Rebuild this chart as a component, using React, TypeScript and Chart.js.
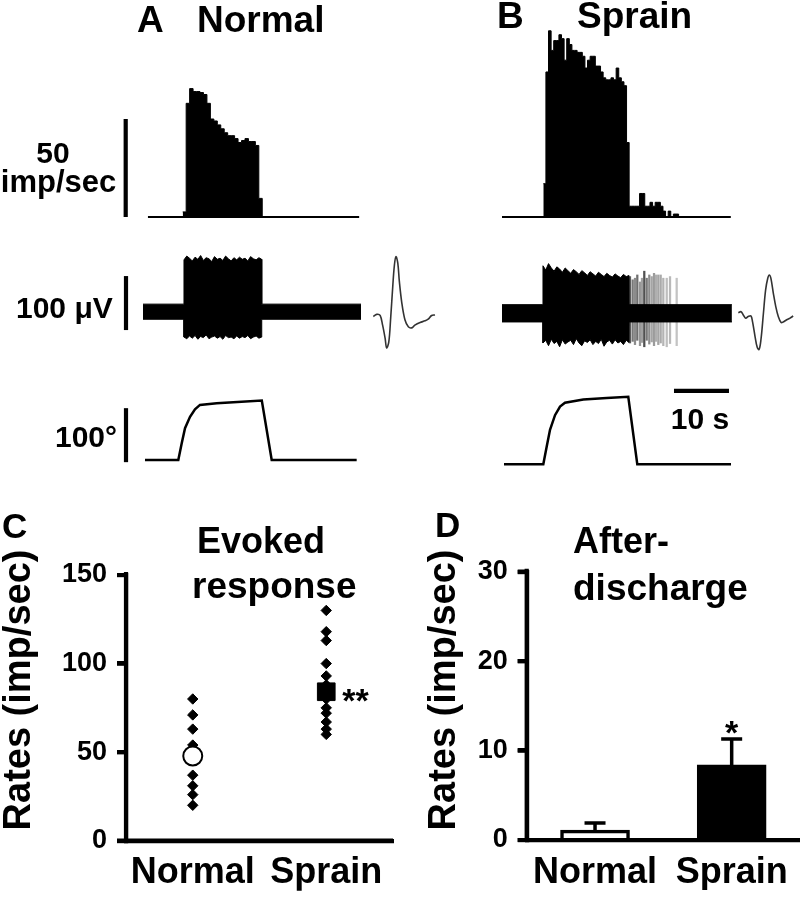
import React, { useEffect, useRef } from "react";
import { Chart, registerables } from "chart.js";
Chart.register(...registerables);

// ======================= DATA =======================
// A / B : peri-stimulus histograms (imp/sec per bin), time in s
const histA_start = 7.22;
const histA_bin = 0.629;
const histA_rates = [2.6, 58, 65.5, 64, 64, 63.5, 62.5, 58, 50, 49, 47, 45, 43, 41.5, 41.5, 40, 38, 39, 40, 38.5, 38.5, 36.5, 9.5];
const histA_range = [0.9, 39.3];

const histB_start = 7.51;
const histB_bin = 0.473;
const histB_rates = [17, 74, 95, 85, 90, 90, 93, 91, 80, 91, 88, 85, 85, 84, 84, 82, 76, 80, 82, 82, 77, 77, 74, 71, 70, 70, 71, 70, 76, 71, 69, 67, 38, 5.5, 5.5, 5.5, 5.5, 12, 12, 5.5, 5.5, 7.5, 5.5, 7.5, 7.5, 5.5, 3, 0, 3, 0, 1.5, 1.5];
const histB_range = [0, 41.6];

// raw recordings (µV): background noise half-width and burst envelope
const rawA_len = 39.64;
const rawA_noise = 14;
const rawA_burst = [7.45, 21.58];
const rawA_hi = [96, 103, 99, 94, 101, 97, 104, 95, 100, 98, 93, 102, 97, 99, 95, 103, 98, 94, 100, 96, 101, 97, 99, 94, 102, 98, 96, 100, 97];
const rawA_lo = [-47, -50, -45, -49, -44, -51, -46, -48, -43, -50, -47, -45, -49, -46, -51, -44, -48, -47, -50, -45, -49, -46, -48, -44, -50, -47, -45, -49, -47];

const rawB_len = 41.8;
const rawB_noise = 16;
const rawB_burst = [7.45, 23.09];
const rawB_hi = [88, 80, 92, 84, 78, 86, 82, 76, 84, 79, 74, 81, 77, 72, 79, 75, 70, 77, 73, 69, 76, 72, 68, 74, 70, 67, 73, 69, 66, 72, 68, 70];
const rawB_lo = [-55, -50, -60, -48, -56, -52, -62, -49, -57, -53, -50, -58, -47, -55, -60, -51, -54, -49, -58, -52, -56, -48, -61, -53, -50, -57, -49, -55, -52, -58, -50, -54];

// after-discharge spikes in B (s, µV)
const spikesB_t = [23.27, 23.76, 24.18, 24.6, 25.09, 25.45, 25.87, 26.31, 26.78, 27.22, 27.64, 28.0, 28.42, 28.85, 29.33, 29.95, 30.55, 31.76];
const spikesB_hi = [68, 62, 65, 71, 58, 65, 78, 65, 71, 68, 74, 71, 71, 71, 65, 65, 68, 65];
const spikesB_lo = [-55, -52, -58, -50, -60, -54, -62, -50, -57, -53, -60, -52, -58, -55, -60, -62, -56, -60];
const spikesB_gray = [90, 120, 140, 110, 150, 160, 80, 120, 140, 165, 155, 175, 165, 170, 180, 190, 185, 195];

// spike waveforms (ms, µV)
const wfA_t = [0.01, 0.12, 0.23, 0.31, 0.39, 0.44, 0.51, 0.57, 0.64, 0.69, 0.74, 0.8, 0.85, 0.93, 1.03, 1.14, 1.25, 1.35, 1.52, 1.68, 1.78, 1.89, 2.0];
const wfA_v = [-1, 3, 1, -17, -41, -59, -48, -4, 57, 94, 110, 98, 64, 24, -7, -20, -22, -17, -12, -9, -6, 1, 2];
const wfB_t = [0.01, 0.1, 0.17, 0.25, 0.33, 0.42, 0.47, 0.55, 0.62, 0.68, 0.74, 0.82, 0.89, 0.96, 1.01, 1.06, 1.14, 1.22, 1.3, 1.39, 1.46, 1.57, 1.68, 1.78];
const wfB_v = [6, 8, 2, -4, -1, 0, -11, -38, -58, -62, -44, 5, 48, 70, 76, 70, 42, 17, -1, -12, -11, -7, -4, 0];

// joint angle (s, deg)
const angA_t = [0.36, 6.42, 7.04, 7.64, 8.55, 9.45, 10.36, 13.4, 16.42, 21.6, 23.4, 38.85];
const angA_v = [0, 0, 31, 59, 80, 94, 102, 105, 107, 110, 0, 0];
const angB_t = [0.36, 7.51, 8.13, 8.73, 9.64, 10.55, 11.45, 14.78, 19.04, 22.96, 24.6, 41.64];
const angB_v = [0, 0, 33, 64, 91, 107, 114, 120, 123, 125, 0, 0];

// scale bars
const barRate = 50; // imp/sec
const barVolt = 100; // µV
const barAngle = 100; // deg
const barTime = 10; // s

// C : evoked response
const categories = ["Normal", "Sprain"];
const evokedNormal = [80, 71, 63, 54, 37, 31, 26, 20];
const evokedSprain = [130, 118, 113, 100, 93, 88, 80, 75, 72, 67, 63, 60];
const evokedMean = [47.8, 84.1];
const evokedSig = ["", "**"];
const evokedTicks = [0, 150, 50];

// D : after-discharge
const afterMean = [1.1, 8.4];
const afterSem = [0.8, 2.9];
const afterSig = ["", "*"];
const afterTicks = [0, 30, 10];

// ======================= LAYOUT =======================
const W = 800;
const H = 897;
const FONT = "'Liberation Sans', Arial, Helvetica, sans-serif";
Chart.defaults.font.family = FONT;
Chart.defaults.color = "#000";
const AXW = 4.2; // axis / scale-bar stroke

type TextItem = { text: string; x: number; y: number; size: number; align?: CanvasTextAlign; rotate?: boolean };

const textPlugin = (items: TextItem[]) => ({
  id: "texts",
  afterDraw(chart: any) {
    const ctx = chart.ctx as CanvasRenderingContext2D;
    ctx.save();
    ctx.fillStyle = "#000";
    ctx.textBaseline = "alphabetic";
    for (const it of items) {
      ctx.font = `bold ${it.size}px ${FONT}`;
      ctx.textAlign = it.align || "left";
      if (it.rotate) {
        ctx.save();
        ctx.translate(it.x, it.y);
        ctx.rotate(-Math.PI / 2);
        ctx.fillText(it.text, 0, 0);
        ctx.restore();
      } else {
        ctx.fillText(it.text, it.x, it.y);
      }
    }
    ctx.restore();
  },
});

// thick Prism-style axes drawn from the chart's own scales
const thickAxes = (xRight?: number) => ({
  id: "thickAxes",
  afterDraw(chart: any) {
    const { ctx, chartArea: a, scales } = chart;
    const y = scales.y;
    ctx.save();
    ctx.strokeStyle = "#000";
    ctx.lineWidth = AXW;
    ctx.lineCap = "butt";
    ctx.beginPath();
    ctx.moveTo(a.left, y.getPixelForValue(y.max) - 3);
    ctx.lineTo(a.left, a.bottom + AXW / 2);
    for (const t of y.ticks) {
      const py = y.getPixelForValue(t.value);
      ctx.moveTo(a.left - 9, py);
      ctx.lineTo(a.left, py);
    }
    ctx.moveTo(a.left - 9, a.bottom);
    ctx.lineTo(xRight ?? a.right, a.bottom);
    ctx.stroke();
    ctx.restore();
  },
});

type Area = { l: number; t: number; r: number; b: number };

const lineDs = (pts: any[], width: number, extra: any = {}) => ({
  type: "line",
  data: pts,
  borderColor: "#000",
  borderWidth: width,
  pointRadius: 0,
  fill: false,
  clip: false,
  tension: 0,
  borderCapStyle: "butt",
  ...extra,
});

const toPts = (xs: number[], ys: number[]) => xs.map((x, i) => ({ x, y: ys[i] }));

function overlay(canvas: HTMLCanvasElement, area: Area, xr: [number, number], yr: [number, number], datasets: any[], texts: TextItem[] = []) {
  return new Chart(canvas, {
    type: "line",
    data: { datasets },
    options: {
      responsive: false,
      maintainAspectRatio: false,
      animation: false,
      events: [],
      layout: { padding: { left: area.l, top: area.t, right: W - area.r, bottom: H - area.b } },
      scales: {
        x: { type: "linear", display: false, offset: false, min: xr[0], max: xr[1] },
        y: { type: "linear", display: false, min: yr[0], max: yr[1] },
      },
      plugins: { legend: { display: false }, tooltip: { enabled: false } },
    } as any,
    plugins: [textPlugin(texts) as any],
  } as any);
}

function histPoints(start: number, bin: number, rates: number[]) {
  const pts = rates.map((r, i) => ({ x: start + i * bin, y: r }));
  pts.push({ x: start + rates.length * bin, y: 0 });
  return pts;
}

// envelope of a raw trace: noise band with a burst section
function envelope(len: number, noise: number, range: number[], vals: number[]) {
  const step = (range[1] - range[0]) / (vals.length - 1);
  const pts = [{ x: 0, y: noise }, { x: range[0] - 0.01, y: noise }];
  vals.forEach((v, i) => pts.push({ x: range[0] + i * step, y: v }));
  pts.push({ x: range[1] + 0.01, y: noise }, { x: len, y: noise });
  return pts;
}

const PXS = 5.5; // px per second
const colA = { l: 143, r: 361 };
const colB = { l: 502, r: 732 };
const xmaxA = (colA.r - colA.l) / PXS;
const xmaxB = (colB.r - colB.l) / PXS;
const barXA = (126 - colA.l) / PXS;

// ---- chart makers ----
const makers: ((c: HTMLCanvasElement) => Chart)[] = [];

// Histogram A
makers.push((c) =>
  overlay(c, { l: colA.l, r: colA.r, t: 21, b: 217 }, [0, xmaxA], [0, 100], [
    lineDs(histPoints(histA_start, histA_bin, histA_rates), 1, { stepped: "before", fill: "origin", backgroundColor: "#000" }),
    lineDs([{ x: histA_range[0], y: 0 }, { x: histA_range[1], y: 0 }], 2),
    lineDs([{ x: (125.7 - colA.l) / PXS, y: 0 }, { x: (125.7 - colA.l) / PXS, y: barRate }], AXW),
  ], [
    { text: "A", x: 137, y: 31.5, size: 37 },
    { text: "Normal", x: 197, y: 31.5, size: 37 },
    { text: "50", x: 53, y: 162.7, size: 30, align: "center" },
    { text: "imp/sec", x: 58.5, y: 191.7, size: 31, align: "center" },
    { text: "100 μV", x: 16, y: 318.3, size: 30 },
    { text: "100°", x: 55, y: 446.7, size: 30 },
  ])
);

// Histogram B
makers.push((c) =>
  overlay(c, { l: colB.l, r: colB.r, t: 21, b: 217 }, [0, xmaxB], [0, 100], [
    lineDs(histPoints(histB_start, histB_bin, histB_rates), 1, { stepped: "before", fill: "origin", backgroundColor: "#000" }),
    lineDs([{ x: histB_range[0], y: 0 }, { x: histB_range[1], y: 0 }], 2),
  ], [
    { text: "B", x: 497, y: 28, size: 37 },
    { text: "Sprain", x: 577, y: 28, size: 37 },
  ])
);

// Raw A
makers.push((c) =>
  overlay(c, { l: colA.l, r: colA.r, t: 311.7 - 120 * 0.54, b: 311.7 + 100 * 0.54 }, [0, xmaxA], [-100, 120], [
    lineDs(envelope(rawA_len, rawA_noise, rawA_burst, rawA_hi), 1, { fill: "+1", backgroundColor: "#000" }),
    lineDs(envelope(rawA_len, -rawA_noise, rawA_burst, rawA_lo), 1),
    lineDs([{ x: barXA, y: -34 }, { x: barXA, y: -34 + barVolt }], AXW),
  ])
);

// Raw B
makers.push((c) =>
  overlay(c, { l: colB.l, r: colB.r, t: 313.3 - 120 * 0.54, b: 313.3 + 100 * 0.54 }, [0, xmaxB], [-100, 120], [
    lineDs(envelope(rawB_len, rawB_noise, rawB_burst, rawB_hi), 1, { fill: "+1", backgroundColor: "#000" }),
    lineDs(envelope(rawB_len, -rawB_noise, rawB_burst, rawB_lo), 1),
    {
      type: "bar",
      data: spikesB_t.map((t, i) => ({ x: t, y: [spikesB_lo[i], spikesB_hi[i]] })),
      backgroundColor: spikesB_gray.map((g) => `rgb(${g},${g},${g})`),
      barThickness: 1.6,
      grouped: false,
      borderWidth: 0,
      clip: false,
    },
  ])
);

// Waveform A
makers.push((c) =>
  overlay(c, { l: 373, r: 435, t: 245.8, b: 359.2 }, [0, 2], [-80, 130], [
    lineDs(toPts(wfA_t, wfA_v), 1.6, { borderColor: "#333", tension: 0.35 }),
  ])
);

// Waveform B
makers.push((c) =>
  overlay(c, { l: 738, r: 793.8, t: 245.8, b: 359.2 }, [0, 1.8], [-80, 130], [
    lineDs(toPts(wfB_t, wfB_v), 1.6, { borderColor: "#333", tension: 0.35 }),
  ])
);

// Angle A
makers.push((c) =>
  overlay(c, { l: colA.l, r: colA.r, t: 460 - 160 * 0.54, b: 460 + 20 * 0.54 }, [0, xmaxA], [-20, 160], [
    lineDs(toPts(angA_t, angA_v), 2.5),
    lineDs([{ x: barXA, y: -4 }, { x: barXA, y: -4 + barAngle }], AXW),
  ])
);

// Angle B
makers.push((c) =>
  overlay(c, { l: colB.l, r: colB.r, t: 464.3 - 160 * 0.54, b: 464.3 + 20 * 0.54 }, [0, xmaxB], [-20, 160], [
    lineDs(toPts(angB_t, angB_v), 2.5),
    lineDs([{ x: 31.27, y: 136 }, { x: 31.27 + barTime, y: 136 }], AXW),
  ], [{ text: "10 s", x: 700, y: 429.3, size: 30, align: "center" }])
);

// ---- Panel C ----
const sigCPlugin = {
  id: "sigC",
  afterDatasetsDraw(chart: any) {
    const { ctx, scales } = chart;
    ctx.save();
    ctx.fillStyle = "#000";
    ctx.font = `bold 34px ${FONT}`;
    ctx.textAlign = "left";
    evokedSig.forEach((s, i) => {
      if (!s) return;
      ctx.fillText(s, scales.x.getPixelForValue(i) + 16, scales.y.getPixelForValue(evokedMean[i]) + 20);
    });
    ctx.restore();
  },
};

const axisY = (ticks: number[], width: number) => ({
  type: "linear",
  min: ticks[0],
  max: ticks[1],
  ticks: { stepSize: ticks[2], font: { size: 27, weight: "bold" }, color: "#000", padding: 10 },
  grid: { drawOnChartArea: false, drawTicks: true, tickLength: 9, lineWidth: AXW, tickWidth: AXW, color: "#000" },
  border: { display: true, width: AXW, color: "#000" },
  afterFit: (s: any) => {
    s.width = width;
  },
});
const axisX = () => ({
  type: "category",
  offset: true,
  grid: { display: false, drawTicks: false },
  border: { display: true, width: AXW, color: "#000" },
  ticks: { font: { size: 36, weight: "bold" }, color: "#000", padding: 11, maxRotation: 0, minRotation: 0, autoSkip: false },
  afterFit: (s: any) => {
    s.height = 50;
  },
});

makers.push(
  (c) =>
    new Chart(c, {
      type: "line",
      data: {
        labels: categories,
        datasets: [
          { label: "Normal mean", data: [{ x: categories[0], y: evokedMean[0] }], showLine: false, pointStyle: "circle", pointRadius: 9.5, pointBackgroundColor: "#fff", pointBorderColor: "#000", pointBorderWidth: 2, order: 0 },
          { label: "Sprain mean", data: [{ x: categories[1], y: evokedMean[1] }], showLine: false, pointStyle: "rect", pointRadius: 12.5, pointBackgroundColor: "#000", pointBorderColor: "#000", pointBorderWidth: 1, order: 0 },
          { label: "Normal", data: evokedNormal.map((v) => ({ x: categories[0], y: v })), showLine: false, pointStyle: "rectRot", pointRadius: 5.2, pointBackgroundColor: "#000", pointBorderColor: "#000", pointBorderWidth: 1, order: 1 },
          { label: "Sprain", data: evokedSprain.map((v) => ({ x: categories[1], y: v })), showLine: false, pointStyle: "rectRot", pointRadius: 5.2, pointBackgroundColor: "#000", pointBorderColor: "#000", pointBorderWidth: 1, order: 1 },
        ],
      },
      options: {
        responsive: false,
        maintainAspectRatio: false,
        animation: false,
        events: [],
        layout: { padding: { left: 6, top: 575, right: W - 393, bottom: H - 840.7 - 50 } },
        scales: { x: axisX(), y: axisY(evokedTicks, 120) },
        plugins: { legend: { display: false }, tooltip: { enabled: false } },
      } as any,
      plugins: [
        thickAxes() as any,
        sigCPlugin as any,
        textPlugin([
          { text: "C", x: 2, y: 538, size: 35 },
          { text: "Evoked", x: 197, y: 553, size: 36 },
          { text: "response", x: 192, y: 598, size: 37 },
          { text: "Rates (imp/sec)", x: 30, y: 690, size: 38, align: "center", rotate: true },
        ]) as any,
      ],
    } as any)
);

// ---- Panel D ----
const errPlugin = {
  id: "errD",
  afterDatasetsDraw(chart: any) {
    const { ctx, scales } = chart;
    ctx.save();
    ctx.strokeStyle = "#000";
    ctx.fillStyle = "#000";
    ctx.lineWidth = 3.5;
    afterMean.forEach((m, i) => {
      const px = scales.x.getPixelForValue(i);
      const y0 = scales.y.getPixelForValue(m);
      const y1 = scales.y.getPixelForValue(m + afterSem[i]);
      ctx.beginPath();
      ctx.moveTo(px, y0);
      ctx.lineTo(px, y1);
      ctx.moveTo(px - 10.5, y1);
      ctx.lineTo(px + 10.5, y1);
      ctx.stroke();
      if (afterSig[i]) {
        ctx.font = `bold 34px ${FONT}`;
        ctx.textAlign = "center";
        ctx.fillText(afterSig[i], px, y1 + 5);
      }
    });
    ctx.restore();
  },
};

makers.push(
  (c) =>
    new Chart(c, {
      type: "bar",
      data: {
        labels: categories,
        datasets: [
          { label: "After-discharge", data: afterMean, backgroundColor: ["#fff", "#000"], borderColor: "#000", borderWidth: 3.5, barThickness: 69 },
        ],
      },
      options: {
        responsive: false,
        maintainAspectRatio: false,
        animation: false,
        events: [],
        layout: { padding: { left: 406.7, top: 571.7, right: 0, bottom: H - 840 - 50 } },
        scales: { x: axisX(), y: axisY(afterTicks, 120) },
        plugins: { legend: { display: false }, tooltip: { enabled: false } },
      } as any,
      plugins: [
        thickAxes(W) as any,
        errPlugin as any,
        textPlugin([
          { text: "D", x: 435, y: 537, size: 35 },
          { text: "After-", x: 573, y: 553, size: 36 },
          { text: "discharge", x: 573, y: 600, size: 37 },
          { text: "Rates (imp/sec)", x: 455, y: 690, size: 38, align: "center", rotate: true },
        ]) as any,
      ],
    } as any)
);

// ======================= COMPONENTS =======================
function Layer({ make }: { make: (c: HTMLCanvasElement) => Chart }) {
  const ref = useRef<HTMLCanvasElement>(null);
  useEffect(() => {
    const chart = make(ref.current as HTMLCanvasElement);
    return () => chart.destroy();
  }, [make]);
  return <canvas ref={ref} width={W} height={H} style={{ position: "absolute", left: 0, top: 0, width: W, height: H }} />;
}

export default function App() {
  return (
    <div style={{ position: "absolute", left: 0, top: 0, width: W, height: H, background: "#fff", overflow: "hidden" }}>
      {makers.map((m, i) => (
        <Layer key={i} make={m} />
      ))}
    </div>
  );
}
